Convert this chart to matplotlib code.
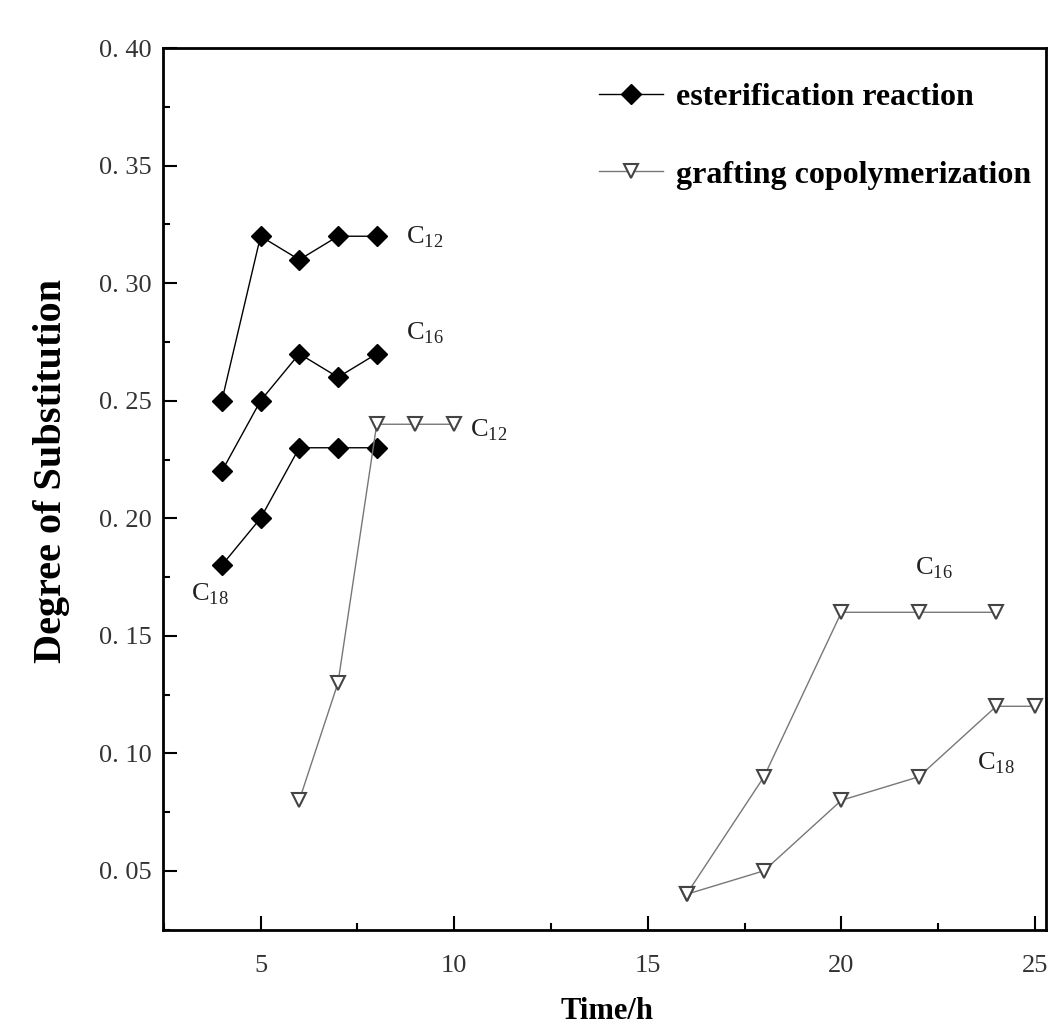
import matplotlib.pyplot as plt
from matplotlib.ticker import MultipleLocator, FuncFormatter

plt.rcParams['font.family'] = ['Liberation Serif', 'DejaVu Serif']
plt.rcParams['mathtext.fontset'] = 'custom'
plt.rcParams['mathtext.rm'] = 'Liberation Serif'

# esterification reaction
est_t = [4, 5, 6, 7, 8]
est_c12 = [0.25, 0.32, 0.31, 0.32, 0.32]
est_c16 = [0.22, 0.25, 0.27, 0.26, 0.27]
est_c18 = [0.18, 0.20, 0.23, 0.23, 0.23]

# grafting copolymerization
gr_c12_t = [6, 7, 8, 9, 10]
gr_c12 = [0.08, 0.13, 0.24, 0.24, 0.24]
gr_c16_t = [16, 18, 20, 22, 24]
gr_c16 = [0.04, 0.09, 0.16, 0.16, 0.16]
gr_c18_t = [16, 18, 20, 22, 24, 25]
gr_c18 = [0.04, 0.05, 0.08, 0.09, 0.12, 0.12]

fig = plt.figure(figsize=(10.49, 10.26), dpi=100)
ax = fig.add_axes([0.155, 0.094, 0.842, 0.859])

est_style = dict(color='black', lw=1.0, marker='D', ms=10, mfc='black', mec='black')
gr_style = dict(color='#777777', lw=1.0, marker='v', ms=10, mfc='white', mec='#444444', mew=1.5)

ax.plot(est_t, est_c12, label='esterification reaction', **est_style)
ax.plot(est_t, est_c16, **est_style)
ax.plot(est_t, est_c18, **est_style)
ax.plot(gr_c12_t, gr_c12, label='grafting copolymerization', **gr_style)
ax.plot(gr_c16_t, gr_c16, **gr_style)
ax.plot(gr_c18_t, gr_c18, **gr_style)

lab = dict(fontsize=19, color='#222222')
ax.text(8.75, 0.317, r'C$_{\mathregular{12}}$', **lab)
ax.text(8.75, 0.276, r'C$_{\mathregular{16}}$', **lab)
ax.text(3.2, 0.165, r'C$_{\mathregular{18}}$', **lab)
ax.text(10.4, 0.235, r'C$_{\mathregular{12}}$', **lab)
ax.text(21.9, 0.176, r'C$_{\mathregular{16}}$', **lab)
ax.text(23.5, 0.093, r'C$_{\mathregular{18}}$', **lab)

ax.set_xlim(2.47, 25.28)
ax.set_ylim(0.025, 0.40)
ax.xaxis.set_major_locator(MultipleLocator(5))
ax.xaxis.set_minor_locator(MultipleLocator(2.5))
ax.yaxis.set_major_locator(MultipleLocator(0.05))
ax.yaxis.set_minor_locator(MultipleLocator(0.025))
ax.yaxis.set_major_formatter(FuncFormatter(lambda v, p: '0. %02d' % round(v * 100)))
ax.tick_params(which='both', direction='in', top=False, right=False, labelsize=19,
               width=1.5, labelcolor='#333333')
ax.tick_params(which='major', length=10)
ax.tick_params(which='minor', length=5)
ax.tick_params(axis='x', pad=18)
ax.tick_params(axis='y', pad=8)
for s in ax.spines.values():
    s.set_linewidth(2)

ax.set_xlabel('Time/h', fontsize=22, fontweight='bold')
ax.set_ylabel('Degree of Substitution', fontsize=29, fontweight='bold')
ax.xaxis.set_label_coords(0.503, -0.076)
ax.yaxis.set_label_coords(-0.105, 0.52)

ax.legend(loc='upper left', bbox_to_anchor=(0.48, 0.975), frameon=False,
          prop={'weight': 'bold', 'size': 23}, handlelength=2.0,
          labelspacing=1.5, borderaxespad=0, handletextpad=0.4)

fig.savefig('out.png', dpi=100)
